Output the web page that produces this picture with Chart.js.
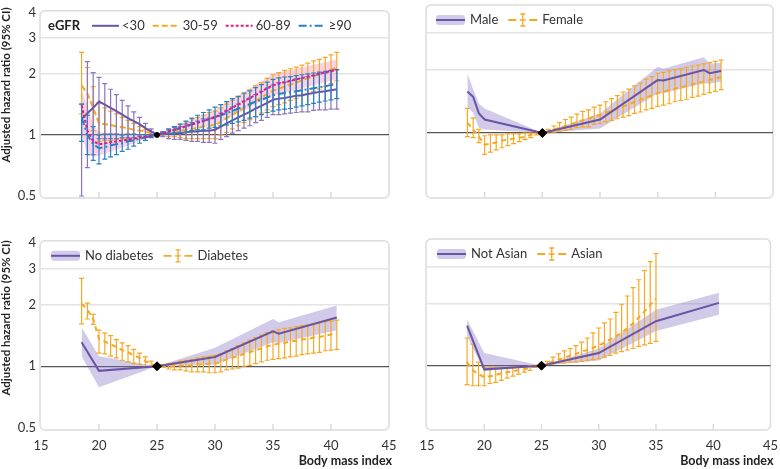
<!DOCTYPE html>
<html>
<head>
<meta charset="utf-8">
<script src="https://cdn.jsdelivr.net/npm/chart.js@4.4.0/dist/chart.umd.min.js"></script>
<style>
  body { margin: 0; background: #fff; width: 780px; height: 469px; position: relative; overflow: hidden; font-family: Lato, sans-serif; }
  canvas { position: absolute; }
  .ytitle { position: absolute; width: 200px; height: 16px; line-height: 16px; text-align: center;
            font: bold 11.5px Lato, sans-serif; color: #222; white-space: nowrap; transform: rotate(-90deg); }
</style>
</head>
<body>
<canvas id="c1" width="400" height="230" style="left:0;top:0"></canvas>
<canvas id="c2" width="390" height="230" style="left:390px;top:0"></canvas>
<canvas id="c3" width="400" height="239" style="left:0;top:230px"></canvas>
<canvas id="c4" width="390" height="239" style="left:390px;top:230px"></canvas>
<div class="ytitle" style="left:-93px;top:77px">Adjusted hazard ratio (95% CI)</div>
<div class="ytitle" style="left:-93px;top:310px">Adjusted hazard ratio (95% CI)</div>
<script>
// BMI points where error bars are drawn
const bmi = [18.5,19,19.5,20,20.5,21,21.5,22,22.5,23,23.5,24,24.5,25,25.5,26,26.5,27,27.5,28,28.5,29,29.5,30,
             30.5,31,31.5,32,32.5,33,33.5,34,34.5,35,35.5,36,36.5,37,37.5,38,38.5,39,39.5,40,40.5];
const xTicks = [15, 20, 25, 30, 35, 40, 45];
const yTicks = [0.5, 1, 2, 3, 4];
const refX = [25];
const refY = [1];

// eGFR <30
const lt30Est = [1.20,1.28,1.36,1.46, 1.41,1.36,1.31,1.26,1.21,1.17,1.13,1.08,1.04,1.00, 1.01,1.01,1.02,1.02,1.03,1.04,1.04,1.05,1.05,1.06,
                 1.10,1.14,1.18,1.22,1.26,1.30,1.35,1.39,1.44,1.49, 1.51,1.52,1.54,1.56,1.57,1.59,1.61,1.63,1.64,1.66,1.68];
const lt30Lo  = [0.50,0.69,0.80,0.96, 0.96,0.96,0.96,0.97,0.97,0.97,0.98,0.98,0.99,1.00, 0.98,0.96,0.95,0.95,0.94,0.93,0.93,0.92,0.92,0.91,
                 0.95,0.98,1.02,1.05,1.08,1.11,1.15,1.18,1.22,1.26, 1.26,1.27,1.28,1.29,1.30,1.30,1.32,1.33,1.33,1.34,1.34];
const lt30Hi  = [1.42,2.30,2.03,1.92, 1.79,1.68,1.58,1.48,1.39,1.30,1.22,1.14,1.07,1.00, 1.04,1.06,1.09,1.10,1.13,1.15,1.17,1.20,1.21,1.23,
                 1.28,1.32,1.37,1.42,1.47,1.52,1.58,1.64,1.70,1.76, 1.81,1.82,1.85,1.89,1.90,1.94,1.96,2.00,2.02,2.06,2.10];
// eGFR 30-59
const e3059Est = [1.75,1.60,1.36,1.14, 1.13,1.12,1.10,1.09,1.08,1.06,1.05,1.04,1.02,1.00, 1.01,1.02,1.04,1.05,1.06,1.07,1.08,1.10,1.11,1.12,
                  1.16,1.21,1.26,1.31,1.36,1.41,1.47,1.53,1.59,1.65, 1.69,1.73,1.77,1.81,1.86,1.90,1.95,1.99,2.04,2.10,2.15];
const e3059Lo  = [1.27,1.25,1.05,0.93, 0.94,0.94,0.95,0.96,0.96,0.97,0.98,0.98,0.99,1.00, 0.99,0.98,0.98,0.97,0.96,0.96,0.96,0.96,0.96,0.96,
                  1.00,1.03,1.07,1.11,1.15,1.19,1.23,1.28,1.33,1.38, 1.41,1.44,1.48,1.51,1.56,1.60,1.64,1.68,1.73,1.79,1.85];
const e3059Hi  = [2.55,2.15,1.73,1.44, 1.36,1.31,1.27,1.22,1.18,1.14,1.10,1.06,1.04,1.00, 1.03,1.06,1.10,1.13,1.16,1.20,1.22,1.25,1.29,1.31,
                  1.36,1.42,1.48,1.54,1.60,1.67,1.75,1.81,1.90,1.98, 2.03,2.08,2.12,2.16,2.21,2.26,2.32,2.36,2.41,2.48,2.55];
// eGFR 60-89 (band)
const e6089X   = [18.5,19,19.5,20,25,30,35,40.5];
const e6089Est = [1.40,1.05,0.93,0.90,1.00,1.22,1.76,2.10];
const e6089Lo  = [1.00,0.80,0.78,0.79,1.00,1.12,1.56,1.88];
const e6089Hi  = [1.65,1.40,1.12,1.03,1.00,1.33,2.00,2.35];
// eGFR >=90
const ge90Est = [1.22,1.00,0.90,0.86, 0.87,0.89,0.90,0.91,0.93,0.94,0.96,0.97,0.99,1.00, 1.02,1.04,1.06,1.08,1.10,1.13,1.15,1.17,1.20,1.22,
                 1.25,1.28,1.31,1.35,1.38,1.42,1.46,1.49,1.53,1.57, 1.59,1.61,1.62,1.64,1.66,1.68,1.70,1.72,1.74,1.76,1.78];
const ge90Lo  = [0.93,0.80,0.75,0.72, 0.76,0.78,0.80,0.83,0.85,0.88,0.91,0.94,0.97,1.00, 1.01,1.02,1.02,1.03,1.03,1.05,1.06,1.06,1.08,1.09,
                 1.11,1.12,1.14,1.16,1.18,1.21,1.23,1.26,1.29,1.31, 1.33,1.34,1.35,1.37,1.39,1.41,1.43,1.45,1.47,1.49,1.51];
const ge90Hi  = [1.42,1.25,1.10,1.00, 1.01,1.01,1.01,1.00,1.01,1.01,1.00,1.00,1.00,1.00, 1.03,1.07,1.10,1.13,1.17,1.21,1.25,1.29,1.33,1.37,
                 1.41,1.46,1.51,1.55,1.61,1.65,1.71,1.77,1.82,1.88, 1.91,1.93,1.94,1.96,1.98,2.00,2.02,2.04,2.06,2.08,2.10];

// Male (band) / Female
const maleX   = [18.5,19,19.5,20,25,30,35,35.5,39,39.5,40.5];
const maleEst = [1.58,1.49,1.24,1.16,1.00,1.16,1.79,1.78,2.00,1.93,1.98];
const maleLo  = [1.34,1.25,1.06,1.04,1.00,1.05,1.55,1.55,1.73,1.72,1.76];
const maleHi  = [1.93,1.62,1.38,1.31,1.00,1.24,2.07,2.03,2.30,2.15,2.16];
const femaleEst = [1.12,1.04,0.96,0.88, 0.89,0.90,0.92,0.93,0.94,0.95,0.96,0.98,0.99,1.00, 1.02,1.04,1.06,1.08,1.10,1.13,1.15,1.17,1.20,1.22,
                   1.25,1.28,1.31,1.34,1.37,1.41,1.44,1.48,1.51,1.55, 1.58,1.60,1.63,1.65,1.68,1.71,1.73,1.76,1.79,1.82,1.85];
const femaleLo  = [0.96,0.95,0.90,0.79, 0.81,0.83,0.85,0.87,0.89,0.91,0.93,0.95,0.98,1.00, 1.00,1.01,1.02,1.03,1.04,1.06,1.07,1.07,1.10,1.11,
                   1.13,1.15,1.17,1.19,1.21,1.24,1.26,1.29,1.31,1.34, 1.36,1.38,1.41,1.43,1.45,1.48,1.50,1.53,1.56,1.58,1.61];
const femaleHi  = [1.31,1.18,1.04,0.97, 0.98,0.98,0.98,0.99,0.99,0.99,1.00,1.00,1.00,1.00, 1.04,1.08,1.12,1.16,1.19,1.23,1.27,1.29,1.33,1.36,
                   1.41,1.46,1.51,1.57,1.62,1.68,1.73,1.81,1.86,1.93, 1.95,1.98,2.01,2.03,2.06,2.09,2.11,2.14,2.17,2.20,2.23];

// No diabetes (band) / Diabetes
const noDiabX   = [18.5,20,25,30,35,35.5,40.5];
const noDiabEst = [1.31,0.95,1.00,1.11,1.48,1.44,1.73];
const noDiabLo  = [1.12,0.79,1.00,1.02,1.31,1.30,1.50];
const noDiabHi  = [1.55,1.12,1.00,1.23,1.70,1.64,1.98];
const diabEst = [2.02,1.89,1.70,1.36, 1.32,1.28,1.24,1.20,1.17,1.13,1.10,1.06,1.03,1.00, 1.00,1.00,1.00,1.01,1.01,1.01,1.02,1.02,1.03,1.03,
                 1.05,1.08,1.10,1.12,1.15,1.17,1.20,1.22,1.25,1.27, 1.29,1.30,1.32,1.33,1.35,1.36,1.38,1.39,1.41,1.43,1.44];
const diabLo  = [1.61,1.70,1.60,1.16, 1.15,1.12,1.10,1.07,1.05,1.03,1.02,0.99,0.99,1.00, 0.99,0.97,0.96,0.96,0.95,0.94,0.94,0.94,0.93,0.93,
                 0.94,0.96,0.97,0.98,1.00,1.01,1.03,1.05,1.07,1.08, 1.09,1.10,1.11,1.12,1.14,1.15,1.16,1.17,1.19,1.20,1.21];
const diabHi  = [2.68,2.03,1.79,1.50, 1.45,1.41,1.35,1.30,1.26,1.21,1.16,1.11,1.06,1.00, 1.02,1.03,1.04,1.06,1.07,1.08,1.10,1.11,1.12,1.13,
                 1.15,1.19,1.22,1.26,1.30,1.34,1.38,1.42,1.46,1.49, 1.51,1.53,1.54,1.56,1.58,1.59,1.61,1.63,1.65,1.66,1.68];

// Not Asian (band) / Asian
const notAsianX   = [18.5,20,25,30,35,40.5];
const notAsianEst = [1.56,0.96,1.00,1.15,1.64,2.01];
const notAsianLo  = [1.39,0.94,1.00,1.06,1.47,1.76];
const notAsianHi  = [1.67,1.15,1.00,1.21,1.86,2.25];
const asianEst = [1.04,0.95,0.91,0.88, 0.89,0.90,0.92,0.93,0.94,0.95,0.96,0.98,0.99,1.00, 1.02,1.05,1.07,1.09,1.12,1.14,1.17,1.19,1.22,1.25,
                  1.29,1.34,1.39,1.44,1.52,1.60,1.71,1.83,1.96,2.11];
const asianLo  = [0.81,0.80,0.80,0.80, 0.82,0.83,0.85,0.87,0.89,0.91,0.93,0.95,0.98,1.00, 1.01,1.02,1.03,1.03,1.04,1.04,1.05,1.06,1.07,1.08,
                  1.10,1.12,1.15,1.17,1.19,1.21,1.24,1.26,1.28,1.31];
const asianHi  = [1.36,1.27,1.04,0.98, 0.98,0.98,0.98,0.98,0.99,0.99,0.99,1.00,1.00,1.00, 1.05,1.10,1.14,1.18,1.21,1.25,1.30,1.36,1.44,1.52,
                  1.61,1.68,1.81,1.98,2.17,2.38,2.60,2.88,3.18,3.48];

const PURPLE = '#6a54a5', PURPLE_BAR = '#8a75c0', ORANGE = '#f7a823', PINK = '#e2198a', BLUE = '#2a80c4';
const LAVENDER = 'rgba(122,104,190,0.35)', PINK_BAND = 'rgba(236,140,195,0.38)';

Chart.defaults.font.family = 'Lato, sans-serif';
Chart.defaults.color = '#333';

const pts = (xs, ys) => ys.map((y, i) => ({x: xs[i], y: y}));

function estLine(xs, ys, color, dash, order) {
  return {data: pts(xs, ys), borderColor: color, borderWidth: 2, borderDash: dash || [],
          pointRadius: 0, fill: false, tension: 0, order: order};
}
function barSeries(est, lo, hi, color, barColor, dash, order) {
  const ds = estLine(bmi, est, color, dash, order);
  ds.errLo = lo; ds.errHi = hi; ds.errColor = barColor;
  return ds;
}
function band(xs, lo, hi, color) {
  return [
    {data: pts(xs, hi), borderWidth: 0, pointRadius: 0, fill: '+1', backgroundColor: color, order: 20},
    {data: pts(xs, lo), borderWidth: 0, pointRadius: 0, fill: false, order: 20}
  ];
}
function refPoint(style, r) {
  return {data: pts(refX, refY), pointStyle: style, pointRadius: r, backgroundColor: '#000',
          borderColor: '#000', borderWidth: 1, showLine: false, order: 0};
}

// error bars under each estimate line
const errorBars = {
  id: 'errorBars',
  beforeDatasetDraw(chart, args) {
    const ds = chart.data.datasets[args.index];
    if (!ds.errLo) return;
    const ctx = chart.ctx, x = chart.scales.x, y = chart.scales.y;
    ctx.save();
    ctx.strokeStyle = ds.errColor;
    ctx.lineWidth = 1.2;
    ctx.beginPath();
    ds.data.forEach((p, i) => {
      const px = x.getPixelForValue(p.x);
      const y1 = y.getPixelForValue(ds.errLo[i]), y2 = y.getPixelForValue(ds.errHi[i]);
      ctx.moveTo(px, y1); ctx.lineTo(px, y2);
      ctx.moveTo(px - 2.5, y1); ctx.lineTo(px + 2.5, y1);
      ctx.moveTo(px - 2.5, y2); ctx.lineTo(px + 2.5, y2);
    });
    ctx.stroke();
    ctx.restore();
  }
};

// rounded panel box + small x tick marks + x axis title
const frame = {
  id: 'frame',
  beforeDraw(chart) {
    const ctx = chart.ctx, a = chart.chartArea, x = chart.scales.x;
    ctx.save();
    ctx.strokeStyle = '#dcdcdc';
    ctx.lineWidth = 1.5;
    ctx.beginPath();
    ctx.roundRect(a.left - 1, a.top - 2, a.right - a.left + 1, a.bottom - a.top + 4, 5);
    ctx.stroke();
    ctx.beginPath();
    xTicks.slice(1, -1).forEach(v => {
      const px = x.getPixelForValue(v);
      ctx.moveTo(px, a.bottom + 2); ctx.lineTo(px, a.bottom - 4);
    });
    ctx.stroke();
    ctx.restore();
  },
  afterDraw(chart) {
    if (!chart.options.scales.x.ticks.display) return;
    const ctx = chart.ctx, a = chart.chartArea;
    ctx.save();
    ctx.font = 'bold 12.5px Lato, sans-serif';
    ctx.fillStyle = '#222';
    ctx.textAlign = 'right';
    ctx.textBaseline = 'middle';
    ctx.fillText('Body mass index', a.right + 3, chart.height - 8);
    ctx.restore();
  }
};

const legends = {
  c1: {dx: 7, title: 'eGFR', symW: 27, gap1: 3, gap2: 8, items: [
    {label: '<30', kind: 'line', color: PURPLE, dash: []},
    {label: '30-59', kind: 'line', color: ORANGE, dash: [6, 3]},
    {label: '60-89', kind: 'line', color: PINK, dash: [3, 2]},
    {label: '\u226590', kind: 'line', color: BLUE, dash: [8, 3, 2, 3]}]},
  c2: {dx: 9, symW: 29, gap1: 5, gap2: 10, items: [
    {label: 'Male', kind: 'band'}, {label: 'Female', kind: 'bar'}]},
  c3: {dx: 10, symW: 29, gap1: 5, gap2: 10, items: [
    {label: 'No diabetes', kind: 'band'}, {label: 'Diabetes', kind: 'bar'}]},
  c4: {dx: 10, symW: 29, gap1: 5, gap2: 10, items: [
    {label: 'Not Asian', kind: 'band'}, {label: 'Asian', kind: 'bar'}]}
};

function drawSymbol(ctx, it, x, y, w) {
  ctx.save();
  if (it.kind === 'line') {
    ctx.strokeStyle = it.color; ctx.lineWidth = 2; ctx.setLineDash(it.dash);
    ctx.beginPath(); ctx.moveTo(x, y); ctx.lineTo(x + w, y); ctx.stroke();
  } else if (it.kind === 'band') {
    ctx.fillStyle = LAVENDER;
    ctx.beginPath(); ctx.roundRect(x, y - 5, w, 10, 3); ctx.fill();
    ctx.strokeStyle = PURPLE; ctx.lineWidth = 2;
    ctx.beginPath(); ctx.moveTo(x, y); ctx.lineTo(x + w, y); ctx.stroke();
  } else {
    const c = x + w / 2;
    ctx.strokeStyle = ORANGE; ctx.lineWidth = 1.8;
    ctx.beginPath();
    ctx.moveTo(x, y); ctx.lineTo(x + 8, y);
    ctx.moveTo(x + w - 8, y); ctx.lineTo(x + w, y);
    ctx.stroke();
    ctx.lineWidth = 1.3;
    ctx.beginPath();
    ctx.moveTo(c, y - 6); ctx.lineTo(c, y + 6);
    ctx.moveTo(c - 2.5, y - 6); ctx.lineTo(c + 2.5, y - 6);
    ctx.moveTo(c - 2.5, y + 6); ctx.lineTo(c + 2.5, y + 6);
    ctx.moveTo(c - 3, y); ctx.lineTo(c + 3, y);
    ctx.stroke();
  }
  ctx.restore();
}

const panelLegend = {
  id: 'panelLegend',
  afterDraw(chart) {
    const o = legends[chart.canvas.id];
    const ctx = chart.ctx, a = chart.chartArea;
    let x = a.left + o.dx;
    const y = a.top + 13;
    ctx.save();
    ctx.textBaseline = 'middle';
    if (o.title) {
      ctx.font = 'bold 13px Lato, sans-serif';
      ctx.fillStyle = '#222';
      ctx.fillText(o.title, x, y);
      x += ctx.measureText(o.title).width + 12;
    }
    ctx.font = '13px Lato, sans-serif';
    o.items.forEach(it => {
      drawSymbol(ctx, it, x, y, o.symW);
      x += o.symW + o.gap1;
      ctx.fillStyle = '#333';
      ctx.fillText(it.label, x, y);
      x += ctx.measureText(it.label).width + o.gap2;
    });
    ctx.restore();
  }
};

function panel(id, datasets, o) {
  new Chart(document.getElementById(id), {
    type: 'line',
    data: {datasets: datasets},
    options: {
      responsive: false,
      animation: false,
      events: [],
      layout: {padding: o.pad},
      scales: {
        x: {
          type: 'linear', min: 15, max: 45,
          afterBuildTicks: s => { s.ticks = xTicks.map(v => ({value: v})); },
          grid: {display: false}, border: {display: false},
          ticks: {display: o.showX, color: '#333', font: {size: 13}, padding: 2, maxRotation: 0, autoSkip: false},
          afterFit: s => { s.height = o.xH; }
        },
        y: {
          type: 'logarithmic', min: 0.5, max: 4,
          afterBuildTicks: s => { s.ticks = yTicks.map(v => ({value: v})); },
          grid: {
            drawTicks: false,
            color: c => c.tick.value === 1 ? '#555' : (c.tick.value === 2 || c.tick.value === 3 ? '#e4e4e4' : 'rgba(0,0,0,0)'),
            lineWidth: c => c.tick.value === 1 ? 1.3 : 1.5
          },
          border: {display: false},
          ticks: {display: o.showY, color: '#333', font: {size: 13}, padding: 5, callback: v => String(v)},
          afterFit: s => { s.width = o.yW; }
        }
      },
      plugins: {legend: {display: false}, tooltip: {enabled: false}}
    },
    plugins: [frame, errorBars, panelLegend]
  });
}

panel('c1', [
  ...band(e6089X, e6089Lo, e6089Hi, PINK_BAND),
  barSeries(e3059Est, e3059Lo, e3059Hi, ORANGE, ORANGE, [6, 3], 6),
  barSeries(lt30Est, lt30Lo, lt30Hi, PURPLE, PURPLE_BAR, [], 5),
  barSeries(ge90Est, ge90Lo, ge90Hi, BLUE, BLUE, [8, 3, 2, 3], 4),
  estLine(e6089X, e6089Est, PINK, [3, 2], 3),
  refPoint('circle', 2.5)
], {pad: {left: 0, top: 7, right: 11, bottom: 0}, yW: 41, xH: 34, showX: false, showY: true});

panel('c2', [
  ...band(maleX, maleLo, maleHi, LAVENDER),
  barSeries(femaleEst, femaleLo, femaleHi, ORANGE, ORANGE, [5, 4], 5),
  estLine(maleX, maleEst, PURPLE, [], 3),
  refPoint('rectRot', 4.5)
], {pad: {left: 37, top: 7, right: 7, bottom: 0}, yW: 0, xH: 34, showX: false, showY: false});

panel('c3', [
  ...band(noDiabX, noDiabLo, noDiabHi, LAVENDER),
  barSeries(diabEst, diabLo, diabHi, ORANGE, ORANGE, [5, 4], 5),
  estLine(noDiabX, noDiabEst, PURPLE, [], 3),
  refPoint('rectRot', 4.5)
], {pad: {left: 0, top: 11, right: 11, bottom: 0}, yW: 41, xH: 41, showX: true, showY: true});

panel('c4', [
  ...band(notAsianX, notAsianLo, notAsianHi, LAVENDER),
  barSeries(asianEst, asianLo, asianHi, ORANGE, ORANGE, [5, 4], 5),
  estLine(notAsianX, notAsianEst, PURPLE, [], 3),
  refPoint('rectRot', 4.5)
], {pad: {left: 37, top: 11, right: 7, bottom: 0}, yW: 0, xH: 41, showX: true, showY: false});
</script>
</body>
</html>
